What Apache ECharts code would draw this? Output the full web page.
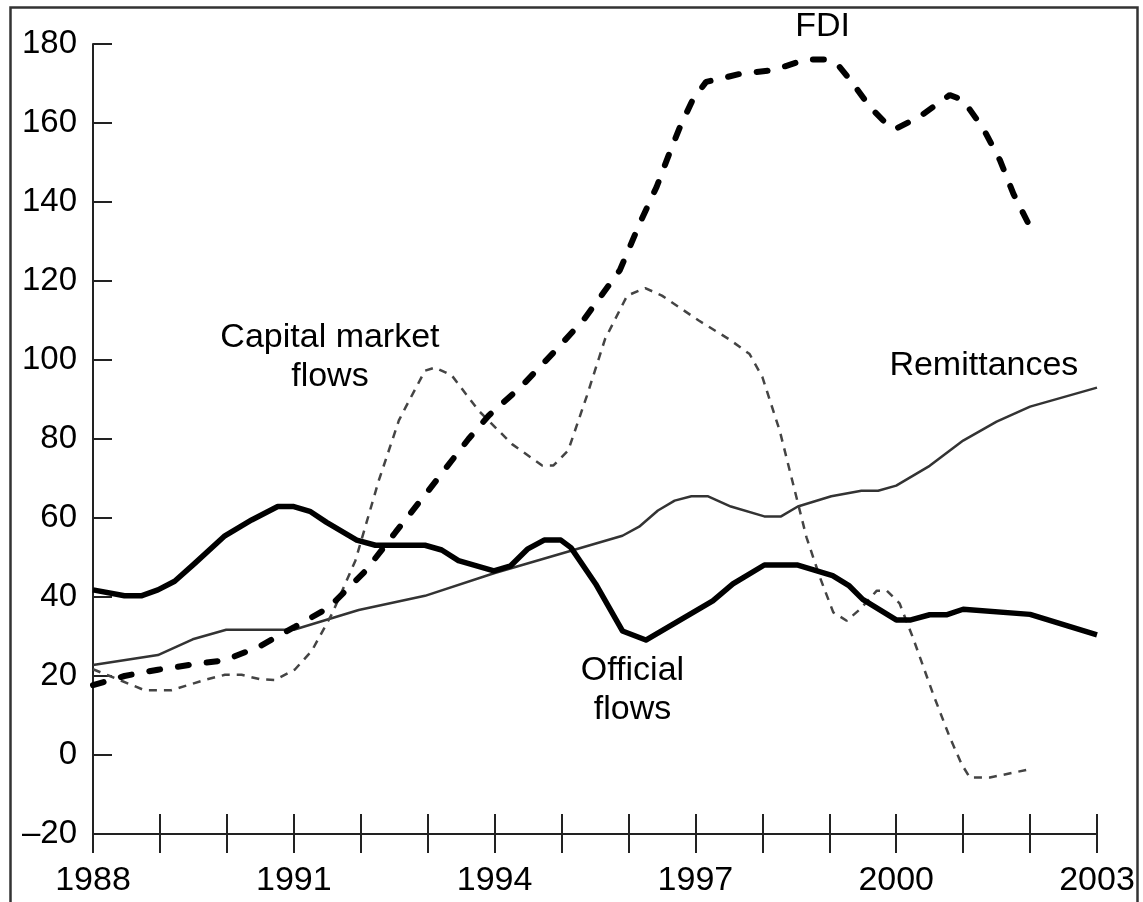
<!DOCTYPE html>
<html>
<head>
<meta charset="utf-8">
<script src="https://cdn.jsdelivr.net/npm/echarts@6/dist/echarts.min.js"></script>
<style>
html,body{margin:0;padding:0;background:#fff;}
#main{width:1143px;height:902px;}
</style>
</head>
<body>
<div id="main"></div>
<script>
// ---- data (year, US$ billions) ----
const yearTicks = [1988, 1991, 1994, 1997, 2000, 2003];
const fdi = [
  [1988,17.7],[1988.47,20.0],[1988.97,21.6],[1989.52,23.0],[1989.97,24.0],[1990.49,27.5],
  [1991.02,32.5],[1991.52,37.3],[1992.07,46.6],[1992.52,56.4],[1993.01,66.9],[1993.61,80.0],
  [1993.91,85.9],[1994.41,93.5],[1994.91,102.4],[1995.34,110.4],[1995.87,122.7],[1996.19,135.4],
  [1996.42,143.8],[1996.62,152.7],[1996.77,159.0],[1996.96,165.9],[1997.16,170.4],[1997.66,172.4],
  [1998.16,173.4],[1998.66,176.1],[1998.96,176.1],[1999.15,174.3],[1999.35,170.1],[1999.60,164.2],
  [1999.90,159.0],[2000.0,158.6],[2000.35,161.6],[2000.8,167.1],[2001.0,165.8],[2001.3,158.6],
  [2001.55,150.6],[2001.75,142.1],[2002.0,133.7]
];
const capitalMarket = [
  [1988,21.7],[1988.25,20.0],[1988.77,16.4],[1989.17,16.4],[1989.67,19.0],[1989.97,20.3],
  [1990.22,20.3],[1990.49,19.2],[1990.72,19.0],[1991.02,21.7],[1991.27,26.4],[1991.57,35.7],
  [1991.92,49.2],[1992.27,69.5],[1992.57,84.7],[1992.67,88.0],[1992.96,97.3],[1993.11,98.1],
  [1993.36,96.1],[1993.76,87.2],[1994.26,78.7],[1994.71,73.3],[1994.88,73.3],[1995.10,77.1],
  [1995.38,91.0],[1995.65,105.3],[1995.98,116.3],[1996.25,118.2],[1996.5,116.3],[1997.05,110.0],
  [1997.5,105.3],[1997.81,101.5],[1998.0,95.7],[1998.26,82.1],[1998.46,68.6],[1998.66,55.1],
  [1998.86,45.0],[1999.06,36.1],[1999.26,34.0],[1999.46,36.9],[1999.71,41.6],[1999.86,41.6],
  [2000.05,38.4],[2000.25,29.7],[2000.55,15.5],[2000.8,4.5],[2000.98,-2.4],[2001.1,-5.7],
  [2001.4,-5.7],[2002.0,-3.6]
];
const remittances = [
  [1988,22.8],[1988.97,25.3],[1989.49,29.3],[1989.99,31.7],[1991.0,31.7],[1991.97,36.7],
  [1992.96,40.3],[1993.99,46.0],[1995.91,55.5],[1996.16,57.8],[1996.44,61.9],[1996.69,64.4],
  [1996.94,65.5],[1997.19,65.5],[1997.53,62.9],[1998.03,60.4],[1998.28,60.4],[1998.53,62.9],
  [1999.03,65.5],[1999.48,66.9],[1999.73,66.9],[2000.0,68.2],[2000.5,73.2],[2001.0,79.6],
  [2001.5,84.4],[2002.0,88.2],[2003.0,93.0]
];
const officialFlows = [
  [1988,41.8],[1988.47,40.3],[1988.72,40.3],[1988.97,41.8],[1989.22,44.0],[1989.52,48.5],
  [1989.97,55.5],[1990.37,59.5],[1990.76,62.9],[1991.0,62.9],[1991.24,61.7],[1991.49,58.9],
  [1991.94,54.4],[1992.22,53.1],[1992.96,53.1],[1993.21,51.9],[1993.46,49.2],[1993.99,46.6],
  [1994.24,47.9],[1994.49,52.1],[1994.74,54.4],[1994.99,54.4],[1995.14,52.5],[1995.51,43.3],
  [1995.91,31.4],[1996.26,29.1],[1997.26,39.0],[1997.56,43.3],[1998.03,48.1],[1998.53,48.1],
  [1999.05,45.4],[1999.30,42.8],[1999.50,39.4],[2000.0,34.2],[2000.22,34.2],[2000.5,35.5],
  [2000.75,35.5],[2001.0,36.9],[2002.0,35.6],[2003.0,30.4]
];
// annotation labels: [text, year, value]
const annotations = [
  ['FDI', 1998.9, 184.4],
  ['Capital market\nflows', 1991.54, 100.8],
  ['Remittances', 2001.31, 98.6],
  ['Official\nflows', 1996.06, 16.5]
];

const FONT = "'Liberation Sans', Arial, Helvetica, sans-serif";
const chart = echarts.init(document.getElementById('main'), null, {renderer: 'canvas'});

const xBase = {
  type: 'value', min: 1988, max: 2003, interval: 1, position: 'bottom',
  splitLine: {show: false},
  axisLine: {show: true, onZero: false, lineStyle: {color: '#222', width: 2}}
};

const option = {
  backgroundColor: '#fff',
  animation: false,
  grid: {left: 93, right: 46, top: 44, bottom: 68, containLabel: false},
  xAxis: [
    Object.assign({}, xBase, {
      axisTick: {show: true, inside: false, length: 19, lineStyle: {color: '#222', width: 2}},
      axisLabel: {
        show: true, margin: 30, color: '#000', fontSize: 34, fontFamily: FONT,
        showMinLabel: true, showMaxLabel: true,
        formatter: function (v) { return yearTicks.indexOf(v) >= 0 ? String(v) : ''; }
      }
    }),
    Object.assign({}, xBase, {
      axisTick: {show: true, inside: true, length: 20, lineStyle: {color: '#222', width: 2}},
      axisLabel: {show: false}
    })
  ],
  yAxis: {
    type: 'value', min: -20, max: 180, interval: 20,
    splitLine: {show: false},
    axisLine: {show: true, onZero: false, lineStyle: {color: '#222', width: 2}},
    axisTick: {show: true, inside: true, length: 19, lineStyle: {color: '#222', width: 2}},
    axisLabel: {
      margin: 16, color: '#000', fontSize: 33, fontFamily: FONT,
      formatter: function (v) { return v < 0 ? '\u2013' + (-v) : String(v); }
    }
  },
  series: [
    {
      name: 'zero', type: 'line', data: [], clip: false, silent: true,
      markLine: {
        silent: true, symbol: ['none', 'none'], label: {show: false},
        lineStyle: {color: '#555', width: 2, type: 'solid'},
        data: [[{coord: [1988, 0]}, {coord: [2003.15, 0]}]]
      }
    },
    {
      name: 'Remittances', type: 'line', data: remittances, showSymbol: false, z: 3,
      lineStyle: {color: '#333', width: 2.5}
    },
    {
      name: 'Capital market flows', type: 'line', data: capitalMarket, showSymbol: false, z: 3,
      lineStyle: {color: '#444', width: 2.5, type: [8, 7]}
    },
    {
      name: 'Official flows', type: 'line', data: officialFlows, showSymbol: false, z: 4,
      lineStyle: {color: '#000', width: 5.5, join: 'round'}
    },
    {
      name: 'FDI', type: 'line', data: fdi, showSymbol: false, z: 5,
      lineStyle: {color: '#000', width: 6, type: [11, 18], cap: 'round'}
    }
  ]
};
chart.setOption(option);

const gfx = [{
  type: 'rect', silent: true, z: 100,
  shape: {x: 10.5, y: 7.5, width: 1127, height: 1000},
  style: {fill: 'none', stroke: '#333', lineWidth: 2.5}
}];
annotations.forEach(function (a) {
  const p = chart.convertToPixel({xAxisIndex: 0, yAxisIndex: 0}, [a[1], a[2]]);
  gfx.push({
    type: 'text', silent: true, z: 100, x: p[0], y: p[1],
    style: {
      text: a[0], fill: '#000', font: '34px ' + FONT,
      align: 'center', verticalAlign: 'middle', lineHeight: 39
    }
  });
});
chart.setOption({graphic: gfx});
</script>
</body>
</html>
